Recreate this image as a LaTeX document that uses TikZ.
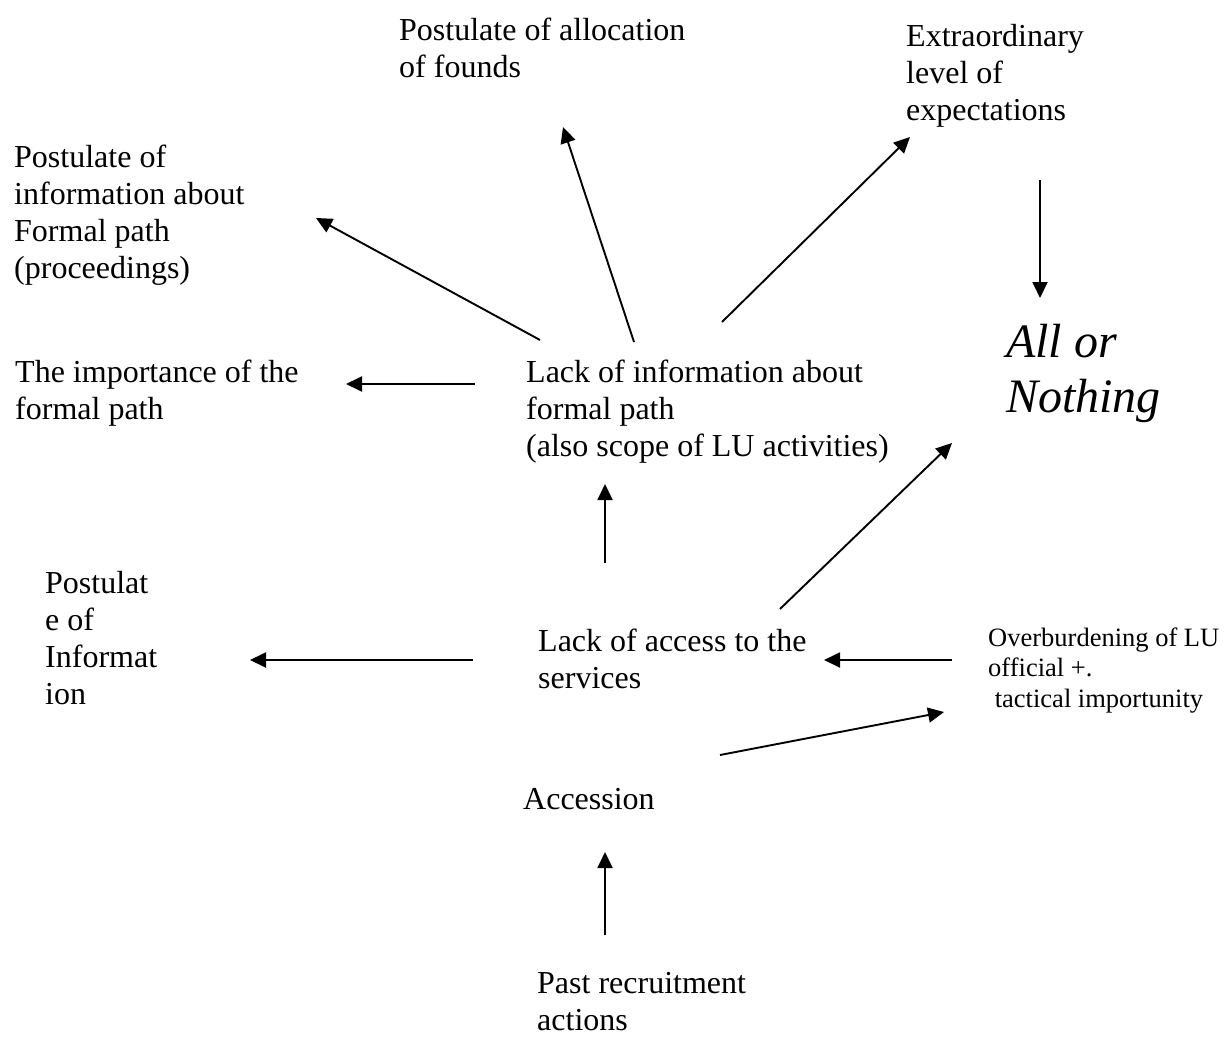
\documentclass[tikz,border=0pt]{standalone}
\usepackage{fontspec}
\setmainfont{Liberation Serif}
\usetikzlibrary{arrows.meta}

\tikzset{
  lbl/.style={anchor=base west, inner sep=0pt, font=\fontsize{32}{37}\selectfont},
  small/.style={lbl, font=\fontsize{26.5}{30.5}\selectfont},
  big/.style={lbl, font=\fontsize{48}{55}\selectfont\itshape},
  arr/.style={-{Triangle[length=16pt,width=15pt]}, line width=1.9pt}
}
\newcommand{\lines}[1]{\begin{tabular}[t]{@{}l@{}}#1\end{tabular}}

\begin{document}
\begin{tikzpicture}[x=1pt, y=-1pt]
  \useasboundingbox (0,0) rectangle (1228,1046);

  % text blocks
  \node[lbl] (alloc)      at (399,41)  {\lines{Postulate of allocation\\of founds}};
  \node[lbl] (extra)      at (906,47)  {\lines{Extraordinary\\level of\\expectations}};
  \node[lbl] (postinfo)   at (14,167)  {\lines{Postulate of\\information about\\Formal path\\(proceedings)}};
  \node[lbl] (importance) at (15,382)  {\lines{The importance of the\\formal path}};
  \node[lbl] (lackinfo)   at (526,382) {\lines{Lack of information about\\formal path\\(also scope of LU activities)}};
  \node[big] (allnothing) at (1006,357) {\lines{All or\\Nothing}};
  \node[lbl] (postulat)   at (45,593)  {\lines{Postulat\\e of\\Informat\\ion}};
  \node[lbl] (lackaccess) at (538,651) {\lines{Lack of access to the\\services}};
  \node[small] (overburden) at (988,646) {\lines{Overburdening of LU\\official +.\\\ tactical importunity}};
  \node[lbl] (accession)  at (523,809) {\lines{Accession}};
  \node[lbl] (past)       at (537,993) {\lines{Past recruitment\\actions}};

  % connector ports
  \coordinate (li-up)    at (634,342);
  \coordinate (alloc-in) at (563,127);
  \coordinate (li-ul)    at (540,340);
  \coordinate (pi-in)    at (316,218);
  \coordinate (li-ur)    at (722,322);
  \coordinate (ex-in)    at (910,137);
  \coordinate (ex-out)   at (1040,180);
  \coordinate (an-top)   at (1040,298);
  \coordinate (li-l)     at (475,384);
  \coordinate (imp-in)   at (346,384);
  \coordinate (la-up)    at (605,563);
  \coordinate (li-in)    at (605,484);
  \coordinate (la-ur)    at (780,609);
  \coordinate (an-bot)   at (952,443);
  \coordinate (la-l)     at (473,660);
  \coordinate (pu-in)    at (250,660);
  \coordinate (ob-l)     at (952,660);
  \coordinate (la-in)    at (824,660);
  \coordinate (ac-ur)    at (720,755);
  \coordinate (ob-in)    at (944,712);
  \coordinate (pa-up)    at (605,935);
  \coordinate (ac-in)    at (605,852);

  % connectors
  \draw[arr] (li-up)  -- (alloc-in);
  \draw[arr] (li-ul)  -- (pi-in);
  \draw[arr] (li-ur)  -- (ex-in);
  \draw[arr] (ex-out) -- (an-top);
  \draw[arr] (li-l)   -- (imp-in);
  \draw[arr] (la-up)  -- (li-in);
  \draw[arr] (la-ur)  -- (an-bot);
  \draw[arr] (la-l)   -- (pu-in);
  \draw[arr] (ob-l)   -- (la-in);
  \draw[arr] (ac-ur)  -- (ob-in);
  \draw[arr] (pa-up)  -- (ac-in);
\end{tikzpicture}
\end{document}
